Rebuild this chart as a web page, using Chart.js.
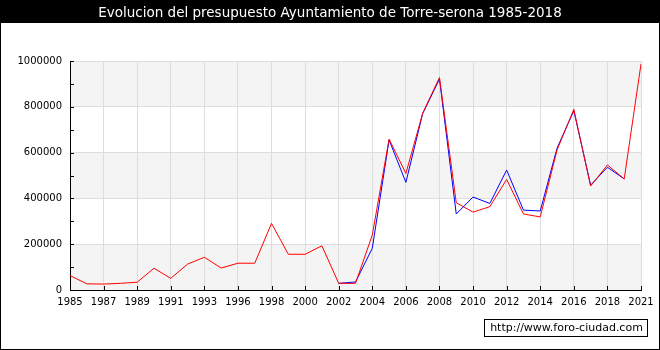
<!DOCTYPE html>
<html>
<head>
<meta charset="utf-8">
<script src="https://cdn.jsdelivr.net/npm/chart.js@4/dist/chart.umd.min.js"></script>
<style>
  html, body { margin: 0; padding: 0; background: #fff; }
  #wrap { width: 660px; height: 350px; }
</style>
</head>
<body>
<div id="wrap"><canvas id="chart_budget" width="660" height="350"></canvas></div>
<script>
// years on the x axis (only every second one gets a label)
const years = [
  "1985", "1986", "1987", "1988", "1989", "1990", "1991", "1992", "1993", "1995",
  "1996", "1997", "1998", "1999", "2000", "2001", "2002", "2003", "2004", "2005",
  "2006", "2007", "2008", "2009", "2010", "2011", "2012", "2013", "2014", "2015",
  "2016", "2017", "2018", "2019", "2021",
];

// red line
const ingresos = [
  63000, 27000, 26000, 29000, 34000, 95000, 51000, 113000, 143000, 96000,
  117000, 117000, 291000, 156000, 156000, 193000, 29000, 29000, 240000, 659000,
  509000, 772000, 928000, 381000, 340000, 364000, 483000, 332000, 319000, 611000,
  789000, 454000, 546000, 485000, 987000,
];

// blue line (2002 - 2019)
const gastos = [
  null, null, null, null, null, null, null, null, null, null,
  null, null, null, null, null, null, 29000, 35000, 182000, 655000,
  470000, 770000, 921000, 332000, 406000, 378000, 524000, 349000, 345000, 619000,
  783000, 458000, 536000, 485000, null,
];

const yTicks = [0, 200000, 400000, 600000, 800000, 1000000];

const titleText = "Evolucion del presupuesto Ayuntamiento de Torre-serona 1985-2018";
const watermark = "http://www.foro-ciudad.com";

const framePlugin = {
  id: "frame",
  beforeDraw(chart) {
    const c = chart.ctx;
    const area = chart.chartArea;
    const y = chart.scales.y;
    c.save();
    c.fillStyle = "#ffffff";
    c.fillRect(0, 0, chart.width, chart.height);
    // alternating bands
    for (let i = 0; i < yTicks.length - 1; i++) {
      if (i % 2 == 0) {
        const top = y.getPixelForValue(yTicks[i + 1]);
        const bot = y.getPixelForValue(yTicks[i]);
        c.fillStyle = "#f4f4f4";
        c.fillRect(area.left, top, area.right - area.left, bot - top);
      }
    }
    c.restore();
  },
  afterDraw(chart) {
    const c = chart.ctx;
    const area = chart.chartArea;
    const x = chart.scales.x;
    const y = chart.scales.y;
    c.save();
    // inward tick marks
    c.strokeStyle = "#000";
    c.lineWidth = 1;
    c.beginPath();
    for (let v = 0; v <= 1000000; v += 100000) {
      const py = Math.round(y.getPixelForValue(v)) + 0.5;
      c.moveTo(area.left, py);
      c.lineTo(area.left + 4, py);
    }
    for (let i = 0; i < years.length; i += 2) {
      const px = Math.round(x.getPixelForValue(i)) + 0.5;
      c.moveTo(px, area.bottom);
      c.lineTo(px, area.bottom - 4);
    }
    c.stroke();

    // title bar
    c.fillStyle = "#000";
    c.fillRect(0, 0, chart.width, 23);
    c.fillStyle = "#fff";
    c.font = "13.5px 'DejaVu Sans'";
    c.textAlign = "center";
    c.textBaseline = "middle";
    c.fillText(titleText, chart.width / 2, 13);

    // outer frame
    c.strokeStyle = "#000";
    c.strokeRect(0.5, 0.5, chart.width - 1, chart.height - 1);

    // watermark box
    c.font = "11px 'DejaVu Sans'";
    const bx = 484, by = 319, bw = 163, bh = 17;
    c.fillStyle = "#fff";
    c.fillRect(bx, by, bw, bh);
    c.strokeStyle = "#000";
    c.strokeRect(bx + 0.5, by + 0.5, bw, bh);
    c.fillStyle = "#000";
    c.textAlign = "center";
    c.fillText(watermark, bx + bw / 2 + 1, by + bh / 2 + 1, bw - 6);
    c.restore();
  },
};

const ctx = document.getElementById("chart_budget").getContext("2d");

const myChart = new Chart(ctx, {
  type: "line",
  data: {
    labels: years,
    datasets: [
      {
        label: "Ingresos",
        data: ingresos,
        borderColor: "#ff0000",
        borderWidth: 1,
        pointRadius: 0,
        tension: 0,
        fill: false,
      },
      {
        label: "Gastos",
        data: gastos,
        borderColor: "#0000ff",
        borderWidth: 1,
        pointRadius: 0,
        tension: 0,
        fill: false,
        spanGaps: false,
      },
    ],
  },
  options: {
    responsive: false,
    animation: false,
    events: [],
    layout: {
      padding: { left: 0, right: 19, top: 61, bottom: 0 },
    },
    plugins: {
      legend: { display: false },
      title: { display: false },
      tooltip: { enabled: false },
    },
    scales: {
      x: {
        type: "category",
        offset: false,
        afterFit: (s) => { s.height = 60; },
        border: { display: true, color: "#000", width: 1 },
        grid: { color: "#dddddd", drawTicks: false },
        ticks: {
          autoSkip: false,
          maxRotation: 0,
          padding: 6,
          color: "#000",
          font: { family: "DejaVu Sans", size: 10 },
          callback: function (value, index) {
            return index % 2 == 0 ? years[index] : null;
          },
        },
      },
      y: {
        min: 0,
        max: 1000000,
        afterFit: (s) => { s.width = 70; },
        border: { display: true, color: "#000", width: 1 },
        grid: { color: "#dddddd", drawTicks: false },
        afterBuildTicks: (s) => { s.ticks = yTicks.map((v) => ({ value: v })); },
        ticks: {
          padding: 8,
          color: "#000",
          font: { family: "DejaVu Sans", size: 10 },
          callback: (v) => String(v),
        },
      },
    },
  },
  plugins: [framePlugin],
});
</script>
</body>
</html>
